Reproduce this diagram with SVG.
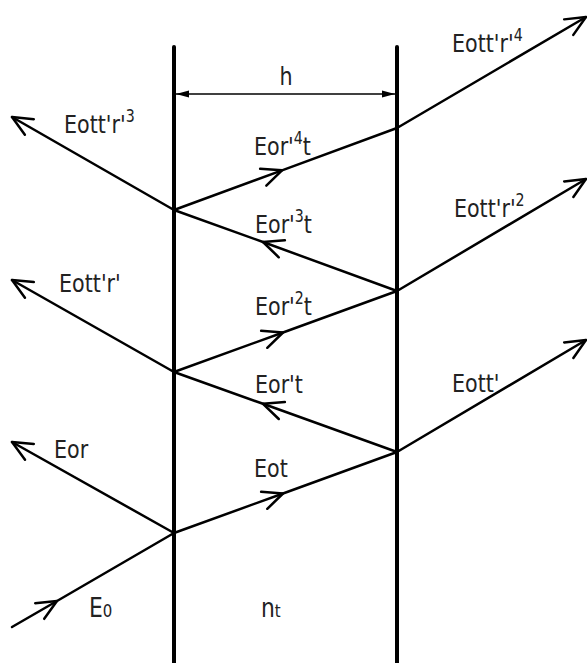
<svg xmlns="http://www.w3.org/2000/svg" width="587" height="663" viewBox="0 0 587 663">
<style>
.wall{stroke:#000;stroke-width:4;stroke-linecap:round;fill:none}
.ray{stroke:#000;stroke-width:2.5;fill:none;stroke-linecap:round;stroke-linejoin:round}
.dim{stroke:#000;stroke-width:1.5;fill:none}
text{font-family:"DejaVu Sans Condensed","DejaVu Sans",sans-serif;font-stretch:condensed;font-size:25.5px;fill:#222}
.sup{font-size:17.5px}
.sub{font-size:18.5px}
.big{font-size:27px}
</style>
<defs>
<marker id="chev" markerUnits="userSpaceOnUse" viewBox="-24 -12 28 24" refX="0" refY="0" markerWidth="28" markerHeight="24" orient="auto" overflow="visible">
<path d="M-20,-9 L0,0 L-20,9" fill="none" stroke="#000" stroke-width="2.5" stroke-linecap="round" stroke-linejoin="round"/>
</marker>
<marker id="tri" markerUnits="userSpaceOnUse" viewBox="-14 -5 16 10" refX="0" refY="0" markerWidth="16" markerHeight="10" orient="auto-start-reverse" overflow="visible">
<path d="M-13,-3.5 L0,0 L-13,3.5 Z" fill="#000"/>
</marker>
</defs>
<g id="walls">
<line class="wall" x1="174" y1="47" x2="174" y2="663"/>
<line class="wall" x1="397" y1="47" x2="397" y2="663"/>
</g>
<g id="dimension">
<line class="dim" x1="176" y1="94" x2="395" y2="94" marker-start="url(#tri)" marker-end="url(#tri)"/>
<text transform="scale(0.9 1)" x="317.8" y="85" text-anchor="middle">h</text>
</g>
<g id="connectors">
<path class="ray" d="M12,627 L57,601 L174,533" marker-mid="url(#chev)"/>
<path class="ray" d="M174,533 L12,442" marker-end="url(#chev)"/>
<path class="ray" d="M174,533 L283,493.5 L397,452" marker-mid="url(#chev)"/>
<path class="ray" d="M397,452 L586,340" marker-end="url(#chev)"/>
<path class="ray" d="M397,452 L263,403.8 L174,372" marker-mid="url(#chev)"/>
<path class="ray" d="M174,372 L12,280" marker-end="url(#chev)"/>
<path class="ray" d="M174,372 L283,332.5 L397,291" marker-mid="url(#chev)"/>
<path class="ray" d="M397,291 L586,179" marker-end="url(#chev)"/>
<path class="ray" d="M397,291 L263,242 L174,210" marker-mid="url(#chev)"/>
<path class="ray" d="M174,210 L12,117" marker-end="url(#chev)"/>
<path class="ray" d="M174,210 L282,170.3 L397,128" marker-mid="url(#chev)"/>
<path class="ray" d="M397,128 L586,17" marker-end="url(#chev)"/>
</g>
<g id="labels" transform="scale(0.9 1)">
<text x="502.2" y="52">Eott'r'<tspan class="sup" dy="-11">4</tspan></text>
<text x="71.1" y="133">Eott'r'<tspan class="sup" dy="-11">3</tspan></text>
<text x="282.2" y="155">Eor'<tspan class="sup" dy="-11">4</tspan><tspan dy="11">t</tspan></text>
<text x="504.4" y="217">Eott'r'<tspan class="sup" dy="-11">2</tspan></text>
<text x="283.3" y="233">Eor'<tspan class="sup" dy="-11">3</tspan><tspan dy="11">t</tspan></text>
<text x="65.6" y="292">Eott'r'</text>
<text x="283.3" y="315">Eor'<tspan class="sup" dy="-11">2</tspan><tspan dy="11">t</tspan></text>
<text x="283.3" y="393">Eor't</text>
<text x="502.2" y="392">Eott'</text>
<text x="60" y="458">Eor</text>
<text x="282.2" y="477">Eot</text>
<text class="big" x="98.9" y="617">E<tspan class="sub">0</tspan></text>
<text class="big" x="290" y="617">n<tspan class="sub">t</tspan></text>
</g>
</svg>
